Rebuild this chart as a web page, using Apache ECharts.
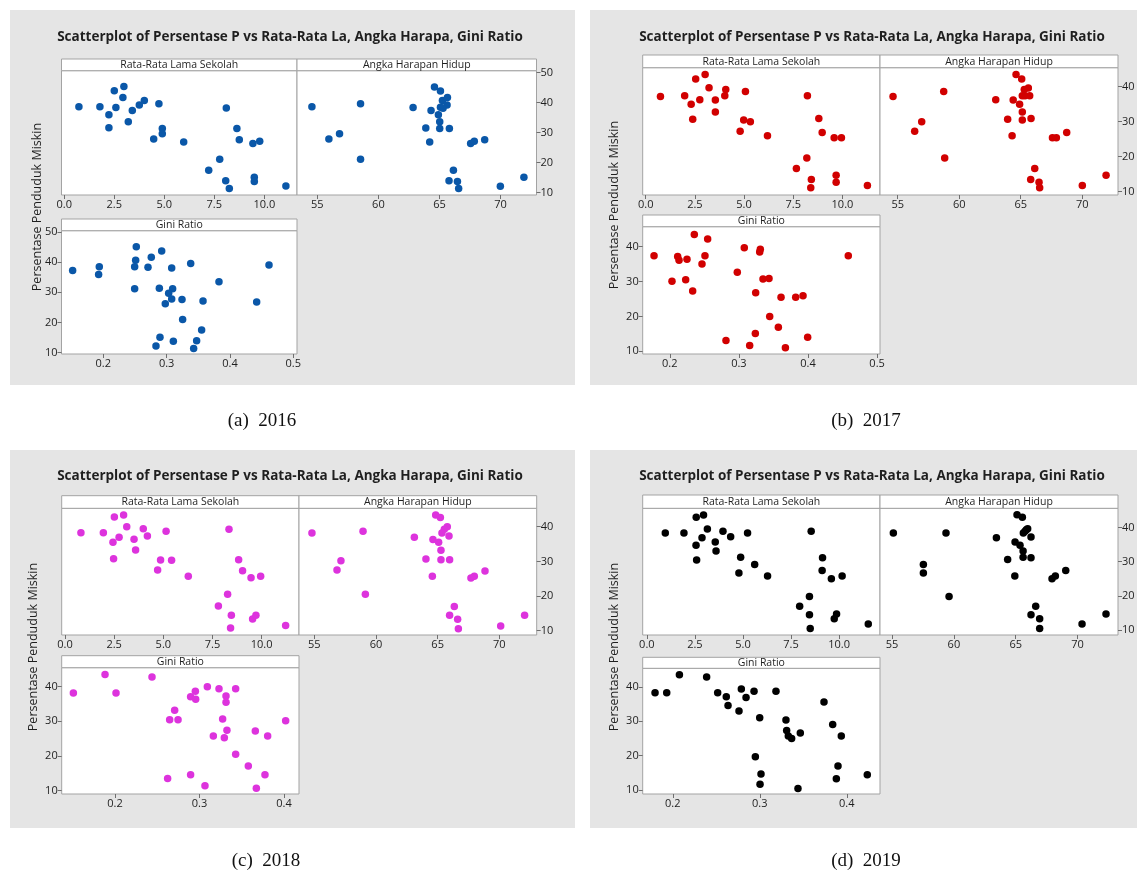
<!DOCTYPE html>
<html>
<head>
<meta charset="utf-8">
<script src="https://cdn.jsdelivr.net/npm/echarts@6/dist/echarts.min.js"></script>
<style>
  html, body { margin: 0; padding: 0; background: #fff; }
  #chart { width: 1142px; height: 872px; }
</style>
</head>
<body>
<div id="chart"></div>
<script>
// Tick values
const rlsTicks = [0, 2.5, 5, 7.5, 10];
const ahhTicks = [55, 60, 65, 70];
const giniTicks4 = [0.2, 0.3, 0.4, 0.5];
const giniTicks3 = [0.2, 0.3, 0.4];
const povTicks5 = [10, 20, 30, 40, 50];
const povTicks4 = [10, 20, 30, 40];

// Subplot captions
const stripRls = 'Rata-Rata Lama Sekolah';
const stripAhh = 'Angka Harapan Hidup';
const stripGini = 'Gini Ratio';
const plotTitle = 'Scatterplot of Persentase P vs Rata-Rata La, Angka Harapa, Gini Ratio';
const yName = 'Persentase Penduduk Miskin';

// 2016: [x, persentase penduduk miskin]
const rls2016 = [[0.73,38.6],[1.78,38.6],[2.5,43.9],[2.98,45.3],[2.93,41.7],[2.58,38.3],[2.23,35.9],[2.23,31.6],[3.4,37.3],[3.2,33.6],[3.75,39.2],[4.0,40.7],[4.73,39.6],[4.9,31.3],[4.9,29.6],[4.47,27.8],[5.97,26.8],[8.1,38.2],[8.63,31.3],[8.75,27.6],[9.43,26.3],[9.77,27.1],[7.77,21.1],[7.22,17.4],[8.07,13.9],[8.25,11.3],[9.5,15.1],[9.5,13.7],[11.08,12.2]];
const ahh2016 = [[54.56,38.6],[55.95,27.8],[56.82,29.6],[58.54,39.6],[58.54,21.1],[62.84,38.3],[64.59,45.2],[65.08,43.8],[65.24,40.7],[65.65,41.7],[65.62,39.2],[65.08,38.4],[65.29,38.1],[64.31,37.3],[64.91,35.9],[65.02,33.6],[63.88,31.5],[65.02,31.3],[65.81,31.3],[64.2,26.8],[67.55,26.3],[67.85,27.1],[68.7,27.6],[66.14,17.4],[65.78,13.9],[66.47,13.7],[66.57,11.3],[69.98,12.1],[71.91,15.1]];
const gini2016 = [[0.1516,37.2],[0.1937,38.5],[0.1926,35.9],[0.2521,45.1],[0.2511,40.6],[0.2495,38.5],[0.2495,31.2],[0.2758,41.6],[0.2706,38.3],[0.2922,43.7],[0.308,38.1],[0.2885,31.4],[0.3095,31.2],[0.3032,29.7],[0.308,27.8],[0.2979,26.2],[0.3243,27.6],[0.338,39.6],[0.3575,27.1],[0.3253,21.0],[0.3827,33.5],[0.4422,26.8],[0.4617,39.1],[0.2895,15.1],[0.2832,12.2],[0.3106,13.8],[0.3553,17.5],[0.3474,14.0],[0.3427,11.4]];

// 2017
const rls2017 = [[0.75,37.2],[1.98,37.4],[2.31,35.0],[2.39,30.7],[2.54,42.2],[3.02,43.5],[2.75,36.3],[3.22,39.7],[3.54,36.2],[3.54,32.8],[4.02,37.4],[4.07,39.2],[5.07,38.6],[4.98,30.5],[5.32,30.0],[4.8,27.3],[6.19,26.0],[8.22,37.4],[8.8,30.9],[8.97,26.9],[9.58,25.4],[9.95,25.4],[8.19,19.6],[7.66,16.6],[8.42,13.5],[8.39,11.1],[9.68,14.7],[9.68,12.7],[11.27,11.8]];
const ahh2017 = [[54.62,37.2],[56.38,27.3],[56.95,30.0],[58.74,38.6],[58.82,19.6],[62.97,36.3],[64.62,43.5],[65.08,42.2],[64.39,36.2],[64.91,35.0],[65.29,39.2],[65.62,39.6],[65.13,37.4],[65.35,37.4],[65.73,37.4],[65.13,32.8],[63.94,30.7],[65.13,30.5],[65.84,30.9],[64.3,26.0],[67.58,25.4],[67.9,25.4],[68.74,26.9],[66.14,16.6],[65.81,13.5],[66.49,12.7],[66.54,11.1],[70.01,11.8],[71.94,14.7]];
const gini2017 = [[0.1772,37.4],[0.2032,30.1],[0.2114,37.2],[0.2134,36.1],[0.223,30.5],[0.2249,36.4],[0.2331,27.3],[0.2355,43.5],[0.2466,35.0],[0.2509,37.4],[0.2548,42.2],[0.2813,13.1],[0.2977,32.7],[0.3078,39.7],[0.3156,11.7],[0.3243,26.8],[0.3238,15.1],[0.3301,38.5],[0.331,39.3],[0.3349,30.7],[0.3436,30.9],[0.3446,20.0],[0.3571,16.9],[0.361,25.5],[0.3673,11.0],[0.3822,25.5],[0.3928,25.9],[0.3995,14.0],[0.4583,37.4]];

// 2018
const rls2018 = [[0.81,38.3],[1.95,38.3],[2.51,42.8],[2.98,43.4],[3.14,40.0],[2.75,37.0],[2.44,35.5],[2.47,30.8],[3.51,36.4],[3.59,33.3],[3.98,39.4],[4.19,37.3],[5.14,38.7],[4.86,30.4],[5.42,30.3],[4.71,27.5],[6.27,25.7],[8.34,39.3],[8.83,30.5],[9.03,27.3],[9.46,25.3],[9.95,25.7],[8.27,20.5],[7.8,17.1],[8.46,14.5],[8.42,10.8],[9.54,13.4],[9.71,14.5],[11.22,11.5]];
const ahh2018 = [[54.81,38.2],[56.84,27.5],[57.16,30.2],[58.95,38.7],[59.14,20.5],[63.11,37.0],[64.84,43.4],[65.22,42.7],[65.78,40.0],[65.54,39.3],[65.35,38.2],[64.62,36.3],[65.08,35.5],[65.92,37.3],[65.27,33.2],[64.05,30.7],[65.27,30.5],[65.97,30.5],[64.57,25.7],[67.7,25.2],[67.97,25.7],[68.84,27.2],[66.35,17.0],[65.97,14.5],[66.62,13.3],[66.68,10.6],[70.11,11.4],[72.05,14.5]];
const gini2018 = [[0.1507,38.1],[0.1882,43.4],[0.2012,38.1],[0.2438,42.7],[0.2623,13.5],[0.2647,30.4],[0.2706,33.1],[0.2746,30.4],[0.2895,37.0],[0.2951,38.6],[0.2955,36.3],[0.2895,14.6],[0.3065,11.4],[0.3093,39.9],[0.3164,25.7],[0.3231,39.3],[0.3274,30.6],[0.3294,25.2],[0.3314,37.2],[0.3314,35.4],[0.3325,27.4],[0.3428,39.3],[0.3428,20.5],[0.3578,17.1],[0.3661,27.2],[0.3673,10.7],[0.3775,14.6],[0.3807,25.7],[0.402,30.1]];

// 2019
const rls2019 = [[0.96,38.4],[1.93,38.4],[2.57,43.0],[2.95,43.6],[3.15,39.5],[2.87,37.0],[2.56,34.8],[2.59,30.5],[3.56,35.7],[3.6,33.1],[3.96,38.9],[4.36,37.3],[5.24,38.4],[4.88,31.3],[5.61,29.2],[4.79,26.7],[6.28,25.8],[8.55,38.9],[9.14,31.1],[9.12,27.4],[9.6,25.0],[10.16,25.8],[8.46,19.8],[7.95,17.0],[8.46,14.5],[8.5,10.5],[9.75,13.3],[9.87,14.7],[11.52,11.8]];
const ahh2019 = [[55.1,38.4],[57.53,29.2],[57.53,26.7],[59.36,38.4],[59.61,19.8],[63.44,37.0],[65.11,43.7],[65.54,43.0],[64.95,35.7],[65.35,34.8],[65.6,33.1],[65.62,38.4],[65.86,39.3],[65.97,39.6],[65.76,38.9],[66.24,37.2],[64.35,30.6],[65.6,31.3],[66.24,31.1],[64.93,25.8],[67.94,25.0],[68.21,25.8],[69.05,27.4],[66.62,17.0],[66.24,14.5],[66.94,13.3],[66.94,10.5],[70.37,11.8],[72.31,14.7]];
const gini2019 = [[0.1796,38.3],[0.193,38.3],[0.2076,43.5],[0.2389,42.9],[0.2516,38.3],[0.2615,37.1],[0.2635,34.6],[0.2761,33.0],[0.2788,39.4],[0.2842,36.9],[0.2934,38.7],[0.2999,31.0],[0.2949,19.7],[0.3014,14.7],[0.3003,11.7],[0.3186,38.7],[0.3301,30.4],[0.3309,27.3],[0.3328,25.7],[0.3366,25.0],[0.3466,26.6],[0.3439,10.5],[0.3738,35.6],[0.3838,29.1],[0.3937,25.7],[0.3899,17.0],[0.388,13.3],[0.4236,14.5]];

const FONT = '"Open Sans", "Noto Sans", sans-serif';
const FRAME = '#a3a3a3';
const TEXT = '#1f1f1f';
const PANEL_BG = '#e5e5e5';

// Panel layout (pixel boxes) and axis windows for each year
const panels = [
  { caption: '(a)  2016', color: '#0a57a8', bg: [10, 10, 575, 385], titleXY: [290, 37], yNameXY: [37, 207], capXY: [262, 421],
    stripTop: [59, 70.7], topBottom: 195, topY: [9.17, 50.6], yTicks: povTicks5,
    rls: { l: 61.5, r: 297, x: [-0.14, 11.635] },
    ahh: { l: 297, r: 536.5, x: [53.34, 72.94] },
    gini: { l: 61.5, r: 297, strip: [219, 230.7], b: 354, x: [0.134, 0.5059], y: [9.57, 50.43], ticks: giniTicks4 },
    data: [rls2016, ahh2016, gini2016] },
  { caption: '(b)  2017', color: '#d10000', bg: [590, 10, 1137, 385], titleXY: [872, 37], yNameXY: [614, 205], capXY: [866, 421],
    stripTop: [55, 67.7], topBottom: 195, topY: [9.06, 45.43], yTicks: povTicks4,
    rls: { l: 642.7, r: 880, x: [-0.153, 11.91] },
    ahh: { l: 880, r: 1118, x: [53.56, 72.91] },
    gini: { l: 642.7, r: 880, strip: [215, 226.7], b: 354, x: [0.1608, 0.5042], y: [9.23, 45.73], ticks: giniTicks4 },
    data: [rls2017, ahh2017, gini2017] },
  { caption: '(c)  2018', color: '#dd33dd', bg: [10, 450, 575, 828], titleXY: [290, 476], yNameXY: [33, 647], capXY: [266, 861],
    stripTop: [495.7, 508.3], topBottom: 635, topY: [8.77, 45.32], yTicks: povTicks4,
    rls: { l: 61.7, r: 299, x: [-0.168, 11.9] },
    ahh: { l: 299, r: 536.7, x: [53.76, 73.03] },
    gini: { l: 61.7, r: 299, strip: [655.7, 667.7], b: 794, x: [0.1369, 0.4178], y: [9.05, 45.37], ticks: giniTicks3 },
    data: [rls2018, ahh2018, gini2018] },
  { caption: '(d)  2019', color: '#000000', bg: [590, 450, 1137, 828], titleXY: [872, 476], yNameXY: [614, 647], capXY: [866, 861],
    stripTop: [495, 508.3], topBottom: 635, topY: [8.57, 45.58], yTicks: povTicks4,
    rls: { l: 642.7, r: 880, x: [-0.215, 12.13] },
    ahh: { l: 880, r: 1118, x: [54.02, 73.28] },
    gini: { l: 642.7, r: 880, strip: [657.3, 668.3], b: 794, x: [0.1654, 0.4382], y: [8.89, 45.39], ticks: giniTicks3 },
    data: [rls2019, ahh2019, gini2019] }
];

const grids = [], xAxes = [], yAxes = [], series = [], graphics = [];
const fmt1 = v => v.toFixed(1);
const fmt0 = v => String(v);

function tickAxis(show, values, formatter) {
  return {
    axisLine: { show: false },
    splitLine: { show: false },
    axisTick: { show: show, inside: false, length: 4, customValues: values, lineStyle: { color: '#6f6f6f', width: 1 } },
    axisLabel: { show: show, customValues: values, formatter: formatter, fontSize: 11, color: TEXT, fontFamily: FONT, margin: 4 }
  };
}

function addPlot(box, xr, yr, xTicks, xFmt, yTicks, yPos, data, color) {
  const i = grids.length;
  grids.push({ left: box.l, top: box.t, width: box.r - box.l, height: box.b - box.t,
    show: true, backgroundColor: '#ffffff', borderColor: FRAME, borderWidth: 1, containLabel: false });
  xAxes.push(Object.assign({ type: 'value', gridIndex: i, min: xr[0], max: xr[1], position: 'bottom' },
    tickAxis(true, xTicks, xFmt)));
  yAxes.push(Object.assign({ type: 'value', gridIndex: i, min: yr[0], max: yr[1], position: yPos || 'left' },
    tickAxis(!!yPos, yTicks, fmt0)));
  series.push({ type: 'scatter', xAxisIndex: i, yAxisIndex: i, data: data, symbol: 'circle', symbolSize: 7.5,
    itemStyle: { color: color, opacity: 1 }, silent: true, animation: false });
}

function strip(x0, x1, y0, y1, label) {
  graphics.push({ type: 'rect', z: 10, shape: { x: x0, y: y0, width: x1 - x0, height: y1 - y0 },
    style: { fill: '#ffffff', stroke: FRAME, lineWidth: 1 } });
  graphics.push({ type: 'text', z: 11, x: (x0 + x1) / 2, y: (y0 + y1) / 2 + 0.5,
    style: { text: label, fill: TEXT, font: '10.5px ' + FONT, textAlign: 'center', textVerticalAlign: 'middle', align: 'center', verticalAlign: 'middle' } });
}

panels.forEach(p => {
  const [bx0, by0, bx1, by1] = p.bg;
  graphics.push({ type: 'rect', z: -10, shape: { x: bx0, y: by0, width: bx1 - bx0, height: by1 - by0 }, style: { fill: PANEL_BG } });
  graphics.push({ type: 'text', z: 11, x: p.titleXY[0], y: p.titleXY[1],
    style: { text: plotTitle, fill: TEXT, font: 'bold 13.5px ' + FONT, textAlign: 'center', textVerticalAlign: 'middle', align: 'center', verticalAlign: 'middle' } });
  graphics.push({ type: 'text', z: 11, x: p.yNameXY[0], y: p.yNameXY[1], rotation: Math.PI / 2,
    style: { text: yName, fill: TEXT, font: '12.5px ' + FONT, textAlign: 'center', textVerticalAlign: 'middle', align: 'center', verticalAlign: 'middle' } });
  graphics.push({ type: 'text', z: 11, x: p.capXY[0], y: p.capXY[1],
    style: { text: p.caption, fill: '#111', font: '19px "Liberation Serif", serif', textAlign: 'center', textVerticalAlign: 'middle', align: 'center', verticalAlign: 'middle' } });

  const t = p.stripTop[1], b = p.topBottom;
  addPlot({ l: p.rls.l, r: p.rls.r, t: t, b: b }, p.rls.x, p.topY, rlsTicks, fmt1, p.yTicks, null, p.data[0], p.color);
  addPlot({ l: p.ahh.l, r: p.ahh.r, t: t, b: b }, p.ahh.x, p.topY, ahhTicks, fmt0, p.yTicks, 'right', p.data[1], p.color);
  addPlot({ l: p.gini.l, r: p.gini.r, t: p.gini.strip[1], b: p.gini.b }, p.gini.x, p.gini.y, p.gini.ticks, fmt1, p.yTicks, 'left', p.data[2], p.color);

  strip(p.rls.l, p.rls.r, p.stripTop[0], p.stripTop[1], stripRls);
  strip(p.ahh.l, p.ahh.r, p.stripTop[0], p.stripTop[1], stripAhh);
  strip(p.gini.l, p.gini.r, p.gini.strip[0], p.gini.strip[1], stripGini);
});

const chart = echarts.init(document.getElementById('chart'), null, { renderer: 'canvas', width: 1142, height: 872 });
chart.setOption({
  backgroundColor: '#ffffff',
  animation: false,
  grid: grids,
  xAxis: xAxes,
  yAxis: yAxes,
  series: series,
  graphic: { elements: graphics }
});
</script>
</body>
</html>
